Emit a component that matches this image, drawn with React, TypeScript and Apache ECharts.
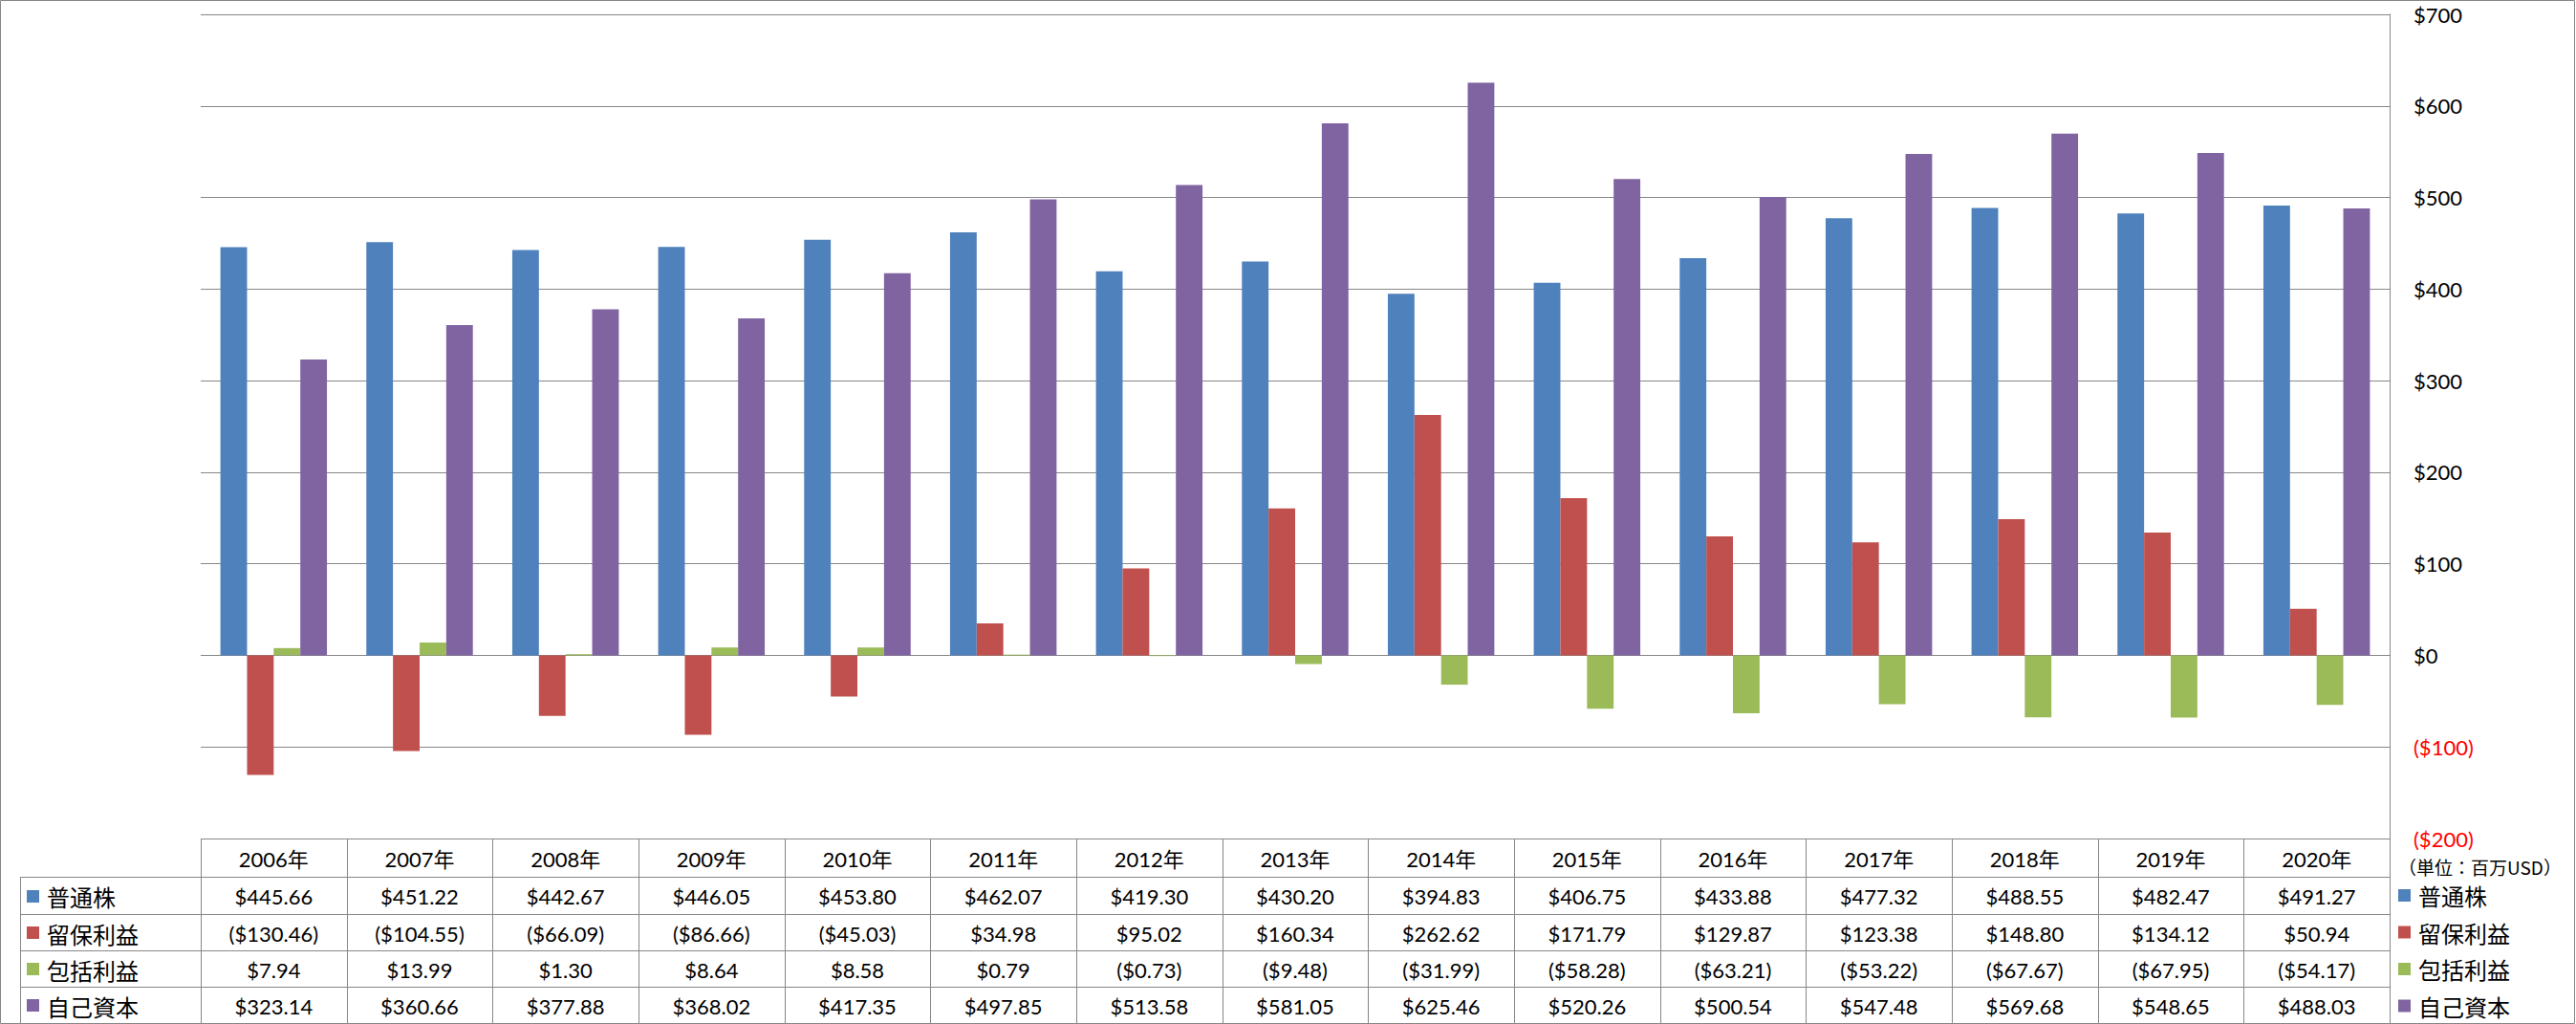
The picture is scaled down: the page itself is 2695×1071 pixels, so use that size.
import React, { useEffect, useRef } from 'react';
import * as echarts from 'echarts';

const categories = ['2006年', '2007年', '2008年', '2009年', '2010年', '2011年', '2012年', '2013年', '2014年', '2015年', '2016年', '2017年', '2018年', '2019年', '2020年'];
const seriesNames = ['普通株', '留保利益', '包括利益', '自己資本'];
const commonStock = [445.66, 451.22, 442.67, 446.05, 453.8, 462.07, 419.3, 430.2, 394.83, 406.75, 433.88, 477.32, 488.55, 482.47, 491.27];
const retainedEarnings = [-130.46, -104.55, -66.09, -86.66, -45.03, 34.98, 95.02, 160.34, 262.62, 171.79, 129.87, 123.38, 148.8, 134.12, 50.94];
const comprehensiveIncome = [7.94, 13.99, 1.3, 8.64, 8.58, 0.79, -0.73, -9.48, -31.99, -58.28, -63.21, -53.22, -67.67, -67.95, -54.17];
const equity = [323.14, 360.66, 377.88, 368.02, 417.35, 497.85, 513.58, 581.05, 625.46, 520.26, 500.54, 547.48, 569.68, 548.65, 488.03];
const seriesColors = ['#4F81BD', '#C0504D', '#9BBB59', '#8064A2'];
const yMin = -200;
const yMax = 700;
const yInterval = 100;
const unitNote = '（単位：百万USD）';

const W = 2695;
const H = 1071;
const GRID_LEFT = 210;
const GRID_RIGHT_X = 2500;
const GRID_TOP = 15;
const GRID_BOTTOM_Y = 877;
const ROW_BOUNDS = [877, 917, 956, 994, 1032, 1070];
const TABLE_LEFT = 21;
const LINE_COLOR = '#878787';
const NUM_FONT = "Lato, 'Noto Sans CJK JP', sans-serif";
const CJK_FONT = "'Noto Sans CJK JP', sans-serif";

function fmtMoney(v: number): string {
  return v < 0 ? `($${(-v).toFixed(2)})` : `$${v.toFixed(2)}`;
}

export default function App() {
  const ref = useRef<HTMLDivElement>(null);

  useEffect(() => {
    document.body.style.margin = '0';
    const chart = echarts.init(ref.current as HTMLDivElement, null, { renderer: 'svg' });
    const seriesData = [commonStock, retainedEarnings, comprehensiveIncome, equity];
    const colW = (GRID_RIGHT_X - GRID_LEFT) / categories.length;
    const px = (v: number) => Math.round(v) + 0.5;
    const graphics: any[] = [];
    const lineStyle = { stroke: LINE_COLOR, lineWidth: 1 };

    // outer chart border
    graphics.push({
      type: 'rect',
      silent: true,
      shape: { x: 0.5, y: 0.5, width: 2693, height: 1070 },
      style: { fill: 'none', stroke: LINE_COLOR, lineWidth: 1 },
    });
    // header top line
    graphics.push({
      type: 'line', silent: true,
      shape: { x1: GRID_LEFT, y1: px(ROW_BOUNDS[0]), x2: GRID_RIGHT_X + 1, y2: px(ROW_BOUNDS[0]) },
      style: lineStyle,
    });
    // row lines
    for (let r = 1; r < ROW_BOUNDS.length; r++) {
      graphics.push({
        type: 'line', silent: true,
        shape: { x1: TABLE_LEFT, y1: px(ROW_BOUNDS[r]), x2: GRID_RIGHT_X + 1, y2: px(ROW_BOUNDS[r]) },
        style: lineStyle,
      });
    }
    // column lines
    for (let i = 0; i <= categories.length; i++) {
      const x = px(GRID_LEFT + i * colW);
      graphics.push({
        type: 'line', silent: true,
        shape: { x1: x, y1: ROW_BOUNDS[0], x2: x, y2: ROW_BOUNDS[5] + 1 },
        style: lineStyle,
      });
    }
    // table left border
    graphics.push({
      type: 'line', silent: true,
      shape: { x1: px(TABLE_LEFT), y1: ROW_BOUNDS[1], x2: px(TABLE_LEFT), y2: ROW_BOUNDS[5] + 1 },
      style: lineStyle,
    });
    // header texts
    categories.forEach((c, i) => {
      graphics.push({
        type: 'text', silent: true,
        style: {
          x: GRID_LEFT + (i + 0.5) * colW,
          y: (ROW_BOUNDS[0] + ROW_BOUNDS[1]) / 2 + 1,
          text: c,
          align: 'center',
          verticalAlign: 'middle',
          font: `22px ${NUM_FONT}`,
          fill: '#000',
        },
      });
    });
    // data rows
    seriesData.forEach((arr, r) => {
      const cy = (ROW_BOUNDS[r + 1] + ROW_BOUNDS[r + 2]) / 2 + 1;
      graphics.push({
        type: 'rect', silent: true,
        shape: { x: 28, y: Math.round(cy - 7), width: 13, height: 13 },
        style: { fill: seriesColors[r] },
      });
      graphics.push({
        type: 'text', silent: true,
        style: {
          x: 49, y: cy, text: seriesNames[r], align: 'left', verticalAlign: 'middle',
          font: `24px ${CJK_FONT}`, fill: '#000',
        },
      });
      arr.forEach((v, i) => {
        graphics.push({
          type: 'text', silent: true,
          style: {
            x: GRID_LEFT + (i + 0.5) * colW,
            y: cy,
            text: fmtMoney(v),
            align: 'center',
            verticalAlign: 'middle',
            font: `22px ${NUM_FONT}`,
            fill: '#000',
          },
        });
      });
    });
    // unit note
    graphics.push({
      type: 'text', silent: true,
      style: {
        x: 2509, y: 906, text: unitNote, align: 'left', verticalAlign: 'middle',
        font: `19px ${CJK_FONT}`, fill: '#000',
      },
    });

    chart.setOption({
      animation: false,
      backgroundColor: '#fff',
      grid: {
        left: GRID_LEFT,
        right: W - GRID_RIGHT_X,
        top: GRID_TOP,
        bottom: H - GRID_BOTTOM_Y,
        containLabel: false,
      },
      legend: {
        orient: 'vertical',
        left: 2509,
        top: 924.5,
        padding: 0,
        itemWidth: 13,
        itemHeight: 13,
        itemGap: 14.5,
        icon: 'rect',
        data: seriesNames,
        selectedMode: false,
        textStyle: {
          fontSize: 24,
          fontFamily: CJK_FONT,
          color: '#000',
          lineHeight: 24,
          padding: [0, 0, 0, 3],
        },
      },
      xAxis: {
        type: 'category',
        data: categories,
        axisLine: { show: false },
        axisTick: { show: false },
        axisLabel: { show: false },
        splitLine: { show: false },
      },
      yAxis: {
        type: 'value',
        position: 'right',
        min: yMin,
        max: yMax,
        interval: yInterval,
        axisLine: { show: true, lineStyle: { color: LINE_COLOR, width: 1 } },
        axisTick: { show: false },
        splitLine: { show: true, lineStyle: { color: LINE_COLOR, width: 1 } },
        axisLabel: {
          margin: 25,
          fontSize: 22,
          fontFamily: NUM_FONT,
          color: '#000',
          formatter: (v: number) => (v < 0 ? `{neg|($${-v})}` : `$${v}`),
          rich: {
            neg: { color: '#FF0000', fontSize: 22, fontFamily: NUM_FONT },
          },
        },
      },
      series: seriesData.map((d, i) => ({
        name: seriesNames[i],
        type: 'bar',
        data: d,
        itemStyle: { color: seriesColors[i] },
        barGap: '0%',
        barCategoryGap: '27%',
      })),
      graphic: graphics,
    });

    return () => chart.dispose();
  }, []);

  return <div ref={ref} style={{ position: 'absolute', left: 0, top: 0, width: W, height: H }} />;
}
